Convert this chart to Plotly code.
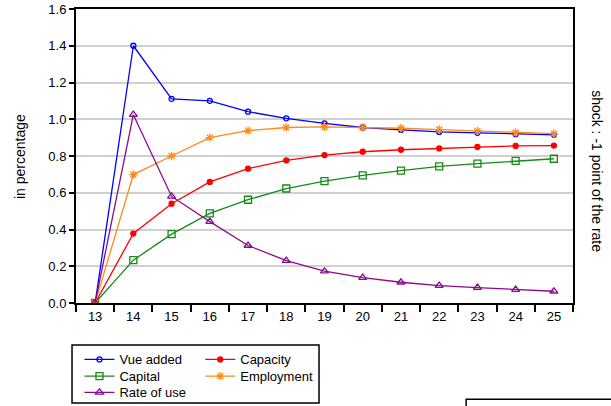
import plotly.graph_objects as go

periods = ["13", "14", "15", "16", "17", "18", "19", "20", "21", "22", "23", "24", "25"]
value_added = [0.0, 1.40, 1.111, 1.10, 1.041, 1.005, 0.978, 0.955, 0.942, 0.931, 0.926, 0.919, 0.915]
capacity = [0.0, 0.378, 0.54, 0.659, 0.731, 0.776, 0.805, 0.823, 0.834, 0.841, 0.849, 0.855, 0.857]
capital = [0.0, 0.233, 0.375, 0.488, 0.562, 0.623, 0.663, 0.695, 0.72, 0.744, 0.758, 0.773, 0.785]
employment = [0.0, 0.699, 0.80, 0.90, 0.938, 0.955, 0.958, 0.955, 0.951, 0.944, 0.937, 0.928, 0.922]
rate_of_use = [0.0, 1.025, 0.58, 0.443, 0.313, 0.231, 0.173, 0.138, 0.113, 0.095, 0.084, 0.073, 0.064]
y_ticks = [0.0, 0.2, 0.4, 0.6, 0.8, 1.0, 1.2, 1.4, 1.6]

FONT = "Liberation Sans, Arial, sans-serif"

fig = go.Figure()

# legend slots: (column x, row y) in paper coordinates
legend_pos = {
    "legend":  (0.007, -0.141),
    "legend2": (0.25, -0.141),
    "legend3": (0.007, -0.198),
    "legend4": (0.25, -0.198),
    "legend5": (0.007, -0.253),
}

def add(name, y, color, symbol, size, legend):
    fig.add_trace(go.Scatter(
        x=periods, y=y, name=name, mode="lines+markers",
        line=dict(color=color, width=1.3),
        marker=dict(symbol=symbol, size=size, color=color,
                    line=dict(color=color, width=1.3)),
        legend=legend,
    ))

add("Vue added", value_added, "#0000FF", "circle-open", 5, "legend")
add("Capacity", capacity, "#FF0000", "circle", 5, "legend2")
add("Capital", capital, "#168C16", "square-open", 7, "legend3")
add("Employment", employment, "#FF8A14", "asterisk-open", 7, "legend4")
add("Rate of use", rate_of_use, "#8B0A8B", "triangle-up-open", 7, "legend5")

legends = {}
for key, (lx, ly) in legend_pos.items():
    legends[key] = dict(x=lx, y=ly, xanchor="left", yanchor="top",
                        orientation="v", bgcolor="rgba(0,0,0,0)",
                        font=dict(size=13), itemwidth=30)

fig.update_layout(
    width=611, height=406,
    margin=dict(l=76, r=38, t=9, b=103, autoexpand=False),
    paper_bgcolor="white", plot_bgcolor="white",
    font=dict(family=FONT, size=13, color="black"),
    showlegend=True,
    **legends,
    xaxis=dict(type="category", range=[-0.5, 12.5],
               showline=True, linecolor="black", linewidth=2, mirror=True,
               ticks="outside", tickson="boundaries", ticklen=7,
               tickcolor="black", tickwidth=1.5,
               showgrid=False, tickfont=dict(size=13)),
    yaxis=dict(range=[0, 1.6], tickvals=y_ticks,
               ticktext=[f"{v:.1f}" for v in y_ticks],
               showline=True, linecolor="black", linewidth=2, mirror=True,
               ticks="outside", ticklen=5, tickcolor="black", tickwidth=1.5,
               showgrid=True, gridcolor="#D0D0D0", gridwidth=1.5,
               zeroline=False, tickfont=dict(size=13)),
    annotations=[
        dict(text="in percentage", xref="paper", yref="paper",
             x=-0.1127, y=0.5, textangle=-90, showarrow=False,
             xanchor="center", yanchor="middle", font=dict(size=14)),
        dict(text="shock : -1 point of the rate", xref="paper", yref="paper",
             x=1.048, y=0.449, textangle=90, showarrow=False,
             xanchor="center", yanchor="middle", font=dict(size=14)),
    ],
    shapes=[
        dict(type="rect", xref="paper", yref="paper",
             x0=-0.008, x1=0.489, y0=-0.143, y1=-0.34,
             line=dict(color="black", width=1.5)),
        dict(type="rect", xref="paper", yref="paper",
             x0=0.785, x1=1.1, y0=-0.327, y1=-0.5,
             line=dict(color="black", width=1.5)),
    ],
)

fig.write_html("out.html",
               config={"displayModeBar": False},
               post_script="document.body.style.margin='0px';document.body.style.overflow='hidden';")
